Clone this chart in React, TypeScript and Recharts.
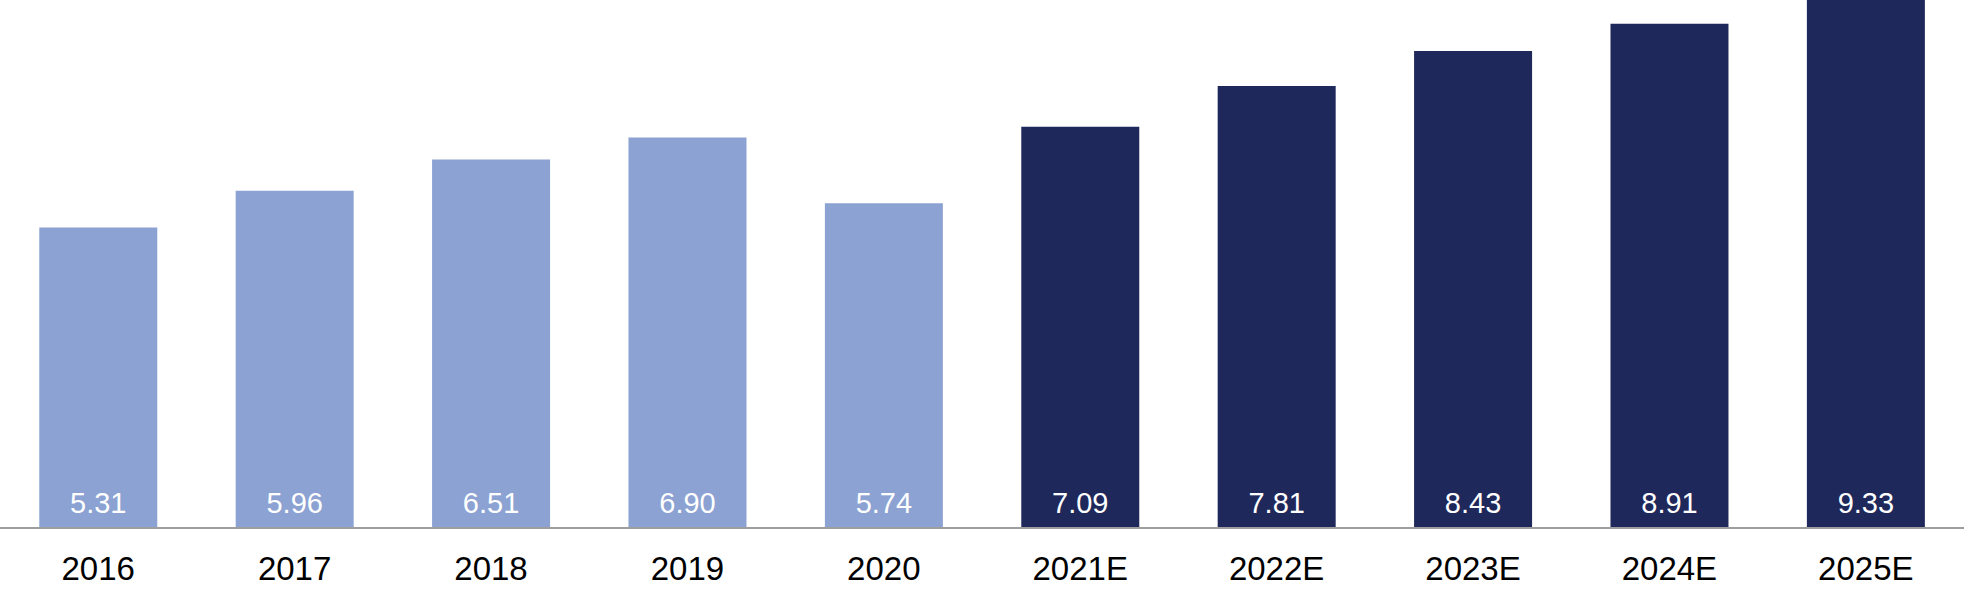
import { Bar, BarChart, Cell, LabelList, XAxis, YAxis } from 'recharts';

// Years (E = estimate) and the value plotted for each one.
const years = ['2016', '2017', '2018', '2019', '2020', '2021E', '2022E', '2023E', '2024E', '2025E'];
const values = [5.31, 5.96, 6.51, 6.9, 5.74, 7.09, 7.81, 8.43, 8.91, 9.33];

const ACTUAL = '#8ba2d2';
const ESTIMATE = '#1f285a';
const FONT = '"Liberation Sans", Arial, Helvetica, sans-serif';

const data = years.map((year, i) => ({ year, value: values[i] }));

export default function App() {
  return (
    <div style={{ position: 'absolute', left: 0, top: 0, width: 1964, height: 593, background: '#fff' }}>
      <BarChart
        width={1964}
        height={593}
        data={data}
        margin={{ top: 0, right: 0, bottom: 0, left: 0 }}
        barCategoryGap="20%"
      >
        <YAxis hide domain={[0, 9.33]} />
        <XAxis
          dataKey="year"
          height={65}
          tickLine={false}
          tickSize={0}
          tickMargin={29}
          axisLine={{ stroke: '#9e9e9e', strokeWidth: 2 }}
          tick={{ fill: '#000', fontSize: 33, fontFamily: FONT }}
          interval={0}
        />
        <Bar dataKey="value" isAnimationActive={false}>
          {data.map((d) => (
            <Cell key={d.year} fill={d.year.endsWith('E') ? ESTIMATE : ACTUAL} />
          ))}
          <LabelList
            dataKey="value"
            position="insideBottom"
            offset={15}
            formatter={(v: number) => v.toFixed(2)}
            style={{ fill: '#fff', fontSize: 29, fontFamily: FONT }}
          />
        </Bar>
      </BarChart>
    </div>
  );
}
